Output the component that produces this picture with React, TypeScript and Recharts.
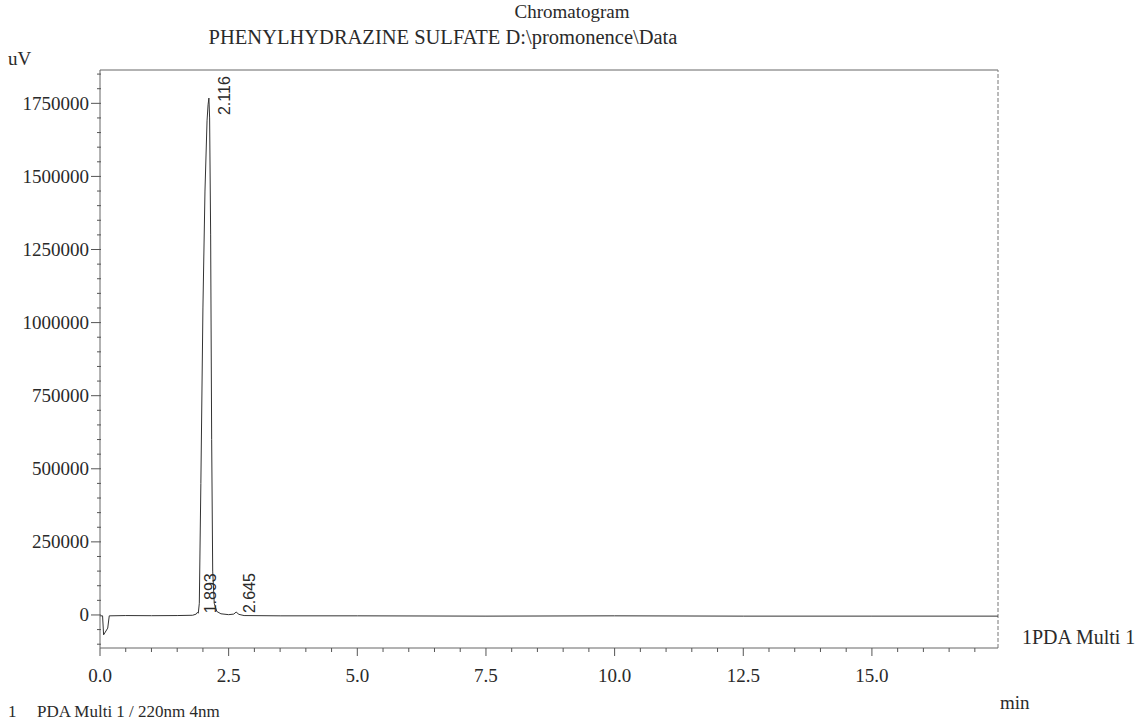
import React from 'react';
import { ComposedChart, Line, XAxis, YAxis, ReferenceLine, ReferenceDot } from 'recharts';

// retention time (min)
const times = [0, 0.05, 0.07, 0.15, 0.18, 0.5, 1.0, 1.5, 1.8, 1.87, 1.893, 1.91, 1.93, 1.96, 2.0, 2.04, 2.08, 2.1, 2.116, 2.13, 2.15, 2.17, 2.19, 2.22, 2.27, 2.35, 2.5, 2.6, 2.645, 2.7, 2.8, 3.5, 5, 7.5, 10, 12.5, 15, 17.45];
// detector signal (uV)
const signal = [-3000, -3000, -68000, -45000, -3000, -2000, -2500, -2000, -1000, 3000, 9000, 6000, 40000, 450000, 1050000, 1450000, 1690000, 1745000, 1768000, 1700000, 1300000, 600000, 150000, 40000, 12000, 4000, 1000, 3000, 10000, 2000, -2000, -3000, -3000, -4000, -3000, -4000, -4000, -4000];

const peakTimes = [1.893, 2.116, 2.645];
const peakLabels = ['1.893', '2.116', '2.645'];
const peakValues = [9000, 1768000, 10000];

const xDomain: [number, number] = [0, 17.45];
const yDomain: [number, number] = [-113000, 1864000];
const xTicks = Array.from({ length: 35 }, (_, i) => i * 0.5);
const yTicks = Array.from({ length: 40 }, (_, i) => -100000 + i * 50000);

const data = times.map((t, i) => ({ t, v: signal[i] }));

const SERIF = '"Liberation Serif", "DejaVu Serif", serif';
const SANS = '"Liberation Sans", Arial, sans-serif';
const INK = '#2a2a2a';

const labelOffsets: Record<string, { dx: number; dy: number }> = {
  '1.893': { dx: 19, dy: 1 },
  '2.116': { dx: 21, dy: 17 },
  '2.645': { dx: 19, dy: 1 },
};

const XTick = (props: any) => {
  const { x, y, payload } = props;
  const v = payload.value as number;
  const major = Math.round(v * 10) % 25 === 0;
  return (
    <g>
      <line x1={x} x2={x} y1={y} y2={y + (major ? 8 : 4)} stroke="#555" strokeWidth={1} />
      {major && v <= 15 && (
        <text x={x} y={y + 34} textAnchor="middle" fontFamily={SERIF} fontSize={19} fill={INK}>
          {v.toFixed(1)}
        </text>
      )}
    </g>
  );
};

const YTick = (props: any) => {
  const { x, y, payload } = props;
  const v = payload.value as number;
  const major = v % 250000 === 0;
  return (
    <g>
      <line x1={major ? x - 9 : x - 3} x2={x + 1} y1={y} y2={y} stroke="#555" strokeWidth={1} />
      {major && (
        <text x={x - 11} y={y + 6.5} textAnchor="end" fontFamily={SERIF} fontSize={19} fill={INK}>
          {String(v)}
        </text>
      )}
    </g>
  );
};

const PeakLabel = (label: string) => (props: any) => {
  const { cx, cy } = props;
  const o = labelOffsets[label];
  const x = cx + o.dx;
  const y = cy + o.dy;
  return (
    <text
      x={x}
      y={y}
      transform={`rotate(-90 ${x} ${y})`}
      textAnchor="start"
      fontFamily={SANS}
      fontSize={16}
      fill={INK}
    >
      {label}
    </text>
  );
};

export default function App() {
  return (
    <div style={{ position: 'absolute', left: 0, top: 0, width: 1146, height: 722, background: '#fff', overflow: 'hidden' }}>
      <ComposedChart
        width={1146}
        height={722}
        data={data}
        margin={{ top: 70, right: 148, bottom: 0, left: 0 }}
      >
        <XAxis
          dataKey="t"
          type="number"
          domain={xDomain}
          ticks={xTicks}
          allowDataOverflow
          height={74}
          tickLine={false}
          tickSize={0}
          tickMargin={0}
          axisLine={{ stroke: '#666', strokeWidth: 1 }}
          tick={<XTick />}
          interval={0}
        />
        <YAxis
          type="number"
          domain={yDomain}
          ticks={yTicks}
          allowDataOverflow
          width={100}
          tickLine={false}
          tickSize={0}
          tickMargin={0}
          axisLine={{ stroke: '#666', strokeWidth: 1 }}
          tick={<YTick />}
          interval={0}
        />
        <ReferenceLine y={yDomain[1]} stroke="#666" strokeWidth={1} />
        <ReferenceLine x={xDomain[1]} stroke="#777" strokeWidth={1} strokeDasharray="4 2" />
        <Line
          dataKey="v"
          type="linear"
          stroke="#333"
          strokeWidth={1}
          dot={false}
          isAnimationActive={false}
        />
        {peakTimes.map((t, i) => (
          <ReferenceDot
            key={peakLabels[i]}
            x={t}
            y={peakValues[i]}
            r={0}
            shape={PeakLabel(peakLabels[i])}
          />
        ))}
      </ComposedChart>
      <svg width={1146} height={722} style={{ position: 'absolute', left: 0, top: 0, pointerEvents: 'none' }}>
        <text x={572} y={18} textAnchor="middle" fontFamily={SERIF} fontSize={19} fill={INK}>Chromatogram</text>
        <text x={443} y={44} textAnchor="middle" fontFamily={SERIF} fontSize={20.5} fill={INK}>PHENYLHYDRAZINE SULFATE D:\promonence\Data</text>
        <text x={8} y={65} fontFamily={SERIF} fontSize={19} fill={INK}>uV</text>
        <text x={1022} y={644} fontFamily={SERIF} fontSize={20} fill={INK}>1PDA Multi 1</text>
        <text x={1000} y={709} fontFamily={SERIF} fontSize={19} fill={INK}>min</text>
        <text x={8} y={717} fontFamily={SERIF} fontSize={17} fill={INK}>1</text>
        <text x={37} y={717} fontFamily={SERIF} fontSize={17} fill={INK}>PDA Multi 1 / 220nm 4nm</text>
      </svg>
    </div>
  );
}
